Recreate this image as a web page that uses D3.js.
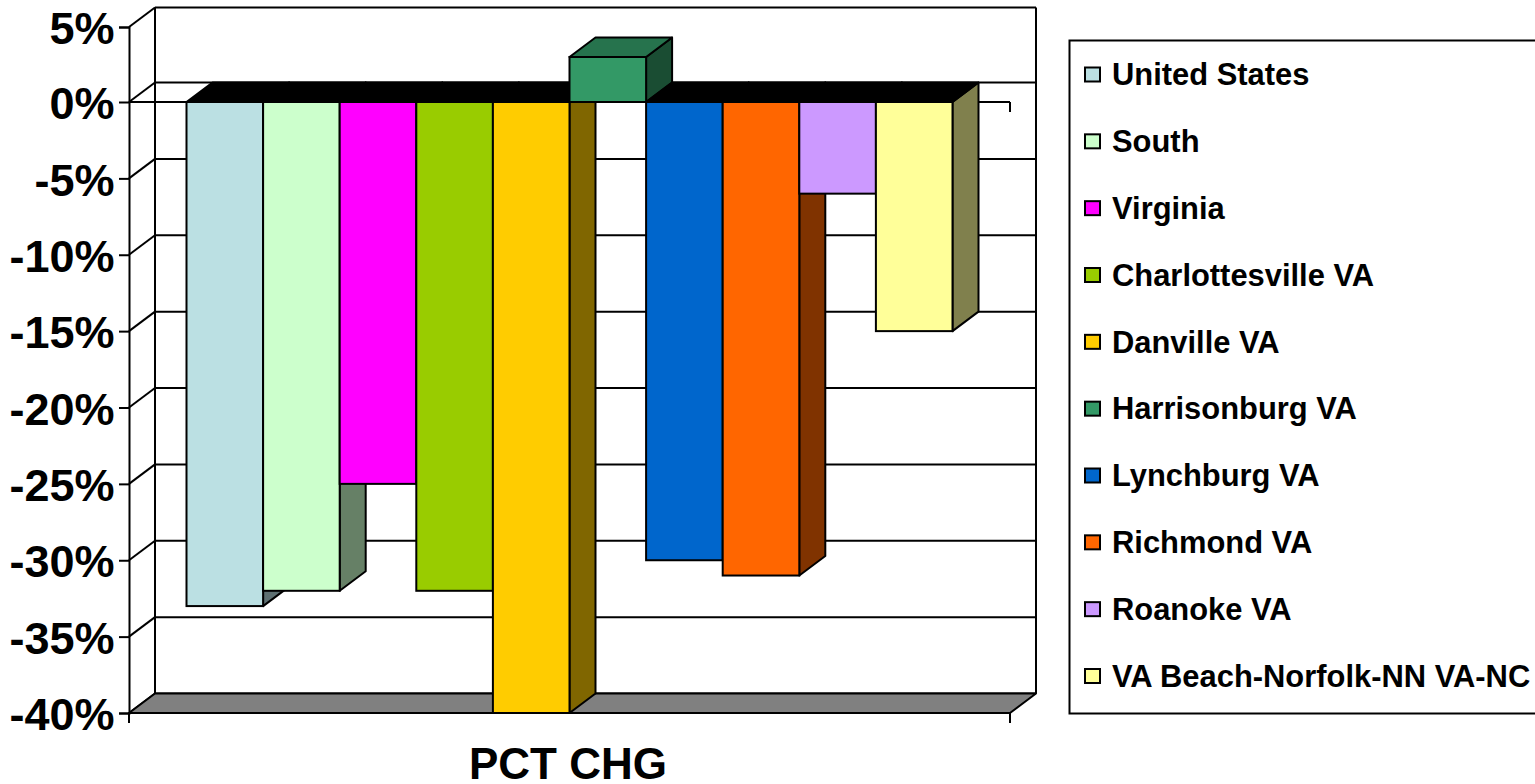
<!DOCTYPE html>
<html><head><meta charset="utf-8">
<style>html,body{margin:0;padding:0;background:#fff;overflow:hidden}svg{display:block}
text{font-family:"Liberation Sans",Arial,sans-serif;font-weight:bold;fill:#000}</style>
<script src="https://cdn.jsdelivr.net/npm/d3@7"></script></head><body><svg id="c" width="1535" height="784"></svg>
<script>
const seriesNames=["United States","South","Virginia","Charlottesville VA","Danville VA","Harrisonburg VA","Lynchburg VA","Richmond VA","Roanoke VA","VA Beach-Norfolk-NN VA-NC"];
const seriesValues=[-33,-32,-25,-32,-40,3,-30,-31,-6,-15];
const seriesColors=["#BBE0E3","#CCFFCC","#FF00FF","#99CC00","#FFCC00","#339966","#0066CC","#FF6600","#CC99FF","#FFFF99"];
const tickValues=[5,0,-5,-10,-15,-20,-25,-30,-35,-40];
const categoryLabel="PCT CHG";

const svg=d3.select("#c");
const left=129,right=1010,dx=26,dy=-19.5;
const y=d3.scaleLinear().domain([5,0,-40]).range([27,102,713]);
const x=d3.scaleBand().domain(seriesNames).range([186.5,952.5]).padding(0);
const sw=2;
const line=(g,x1,y1,x2,y2,w=sw)=>g.append("line").attr("x1",x1).attr("y1",y1).attr("x2",x2).attr("y2",y2).attr("stroke","#000").attr("stroke-width",w);
const poly=(g,pts,fill,w=sw)=>g.append("polygon").attr("points",pts.map(p=>p.join(",")).join(" ")).attr("fill",fill).attr("stroke","#000").attr("stroke-width",w).attr("stroke-linejoin","round");

// walls & floor
const wall=svg.append("g");
tickValues.forEach(t=>{
  line(wall,left+dx,y(t)+dy,right+dx,y(t)+dy);
  line(wall,left,y(t),left+dx,y(t)+dy);
});
line(wall,left+dx,y(5)+dy,left+dx,y(-40)+dy);
line(wall,right+dx,y(5)+dy,right+dx,y(-40)+dy);
poly(wall,[[left,y(-40)],[left+dx,y(-40)+dy],[right+dx,y(-40)+dy],[right,y(-40)]],"#808080");

// front axis lines
const axisG=svg.append("g").attr("transform",`translate(${left},0)`)
  .call(d3.axisLeft(y).tickValues(tickValues).tickSize(10).tickFormat(d=>d+"%"));
axisG.selectAll("path,line").attr("stroke","#000").attr("stroke-width",sw);
axisG.selectAll("text").attr("font-size",45).attr("x",-14.5).attr("dy","0.37em").attr("text-anchor","end").style("font-family",'"Liberation Sans",Arial,sans-serif').style("font-weight","bold");
line(svg,left,y(0),right,y(0));
line(svg,right,y(0),right,y(0)+10);
line(svg,left,y(-40),right,y(-40));
line(svg,left,y(-40),left,y(-40)+10);
line(svg,right,y(-40),right,y(-40)+10);

// bars (painter's order left to right)
const bars=svg.append("g");
const dark=(c,k)=>{const r=d3.rgb(c);return d3.rgb(r.r*k,r.g*k,r.b*k).formatHex();};
seriesNames.forEach((n,i)=>{
  const g=bars.append("g");
  const a=x(n),b=a+x.bandwidth(),v=seriesValues[i],c=seriesColors[i];
  const y0=y(0),y1=y(v);
  const top=Math.min(y0,y1),bot=Math.max(y0,y1);
  poly(g,[[b,top],[b+dx,top+dy],[b+dx,bot+dy],[b,bot]],dark(c,.5));
  poly(g,[[a,top],[a+dx,top+dy],[b+dx,top+dy],[b,top]],v<0?"#000":dark(c,.75));
  g.append("rect").attr("x",a).attr("y",top).attr("width",b-a).attr("height",bot-top).attr("fill",c).attr("stroke","#000").attr("stroke-width",sw);
});

// category label
svg.append("text").attr("x",568).attr("y",779).attr("text-anchor","middle").attr("font-size",44).text(categoryLabel);

// legend
const legend=svg.append("g");
legend.append("rect").attr("x",1069.5).attr("y",40.5).attr("width",470).attr("height",673).attr("fill","#fff").attr("stroke","#000").attr("stroke-width",sw);
const ly=d3.scalePoint().domain(seriesNames).range([74.5,676]);
seriesNames.forEach((n,i)=>{
  legend.append("rect").attr("x",1085).attr("y",ly(n)-7).attr("width",15).attr("height",14).attr("fill",seriesColors[i]).attr("stroke","#000").attr("stroke-width",sw);
  legend.append("text").attr("x",1112).attr("y",ly(n)).attr("dy","0.35em").attr("font-size",30.9).text(n);
});
</script></body></html>
